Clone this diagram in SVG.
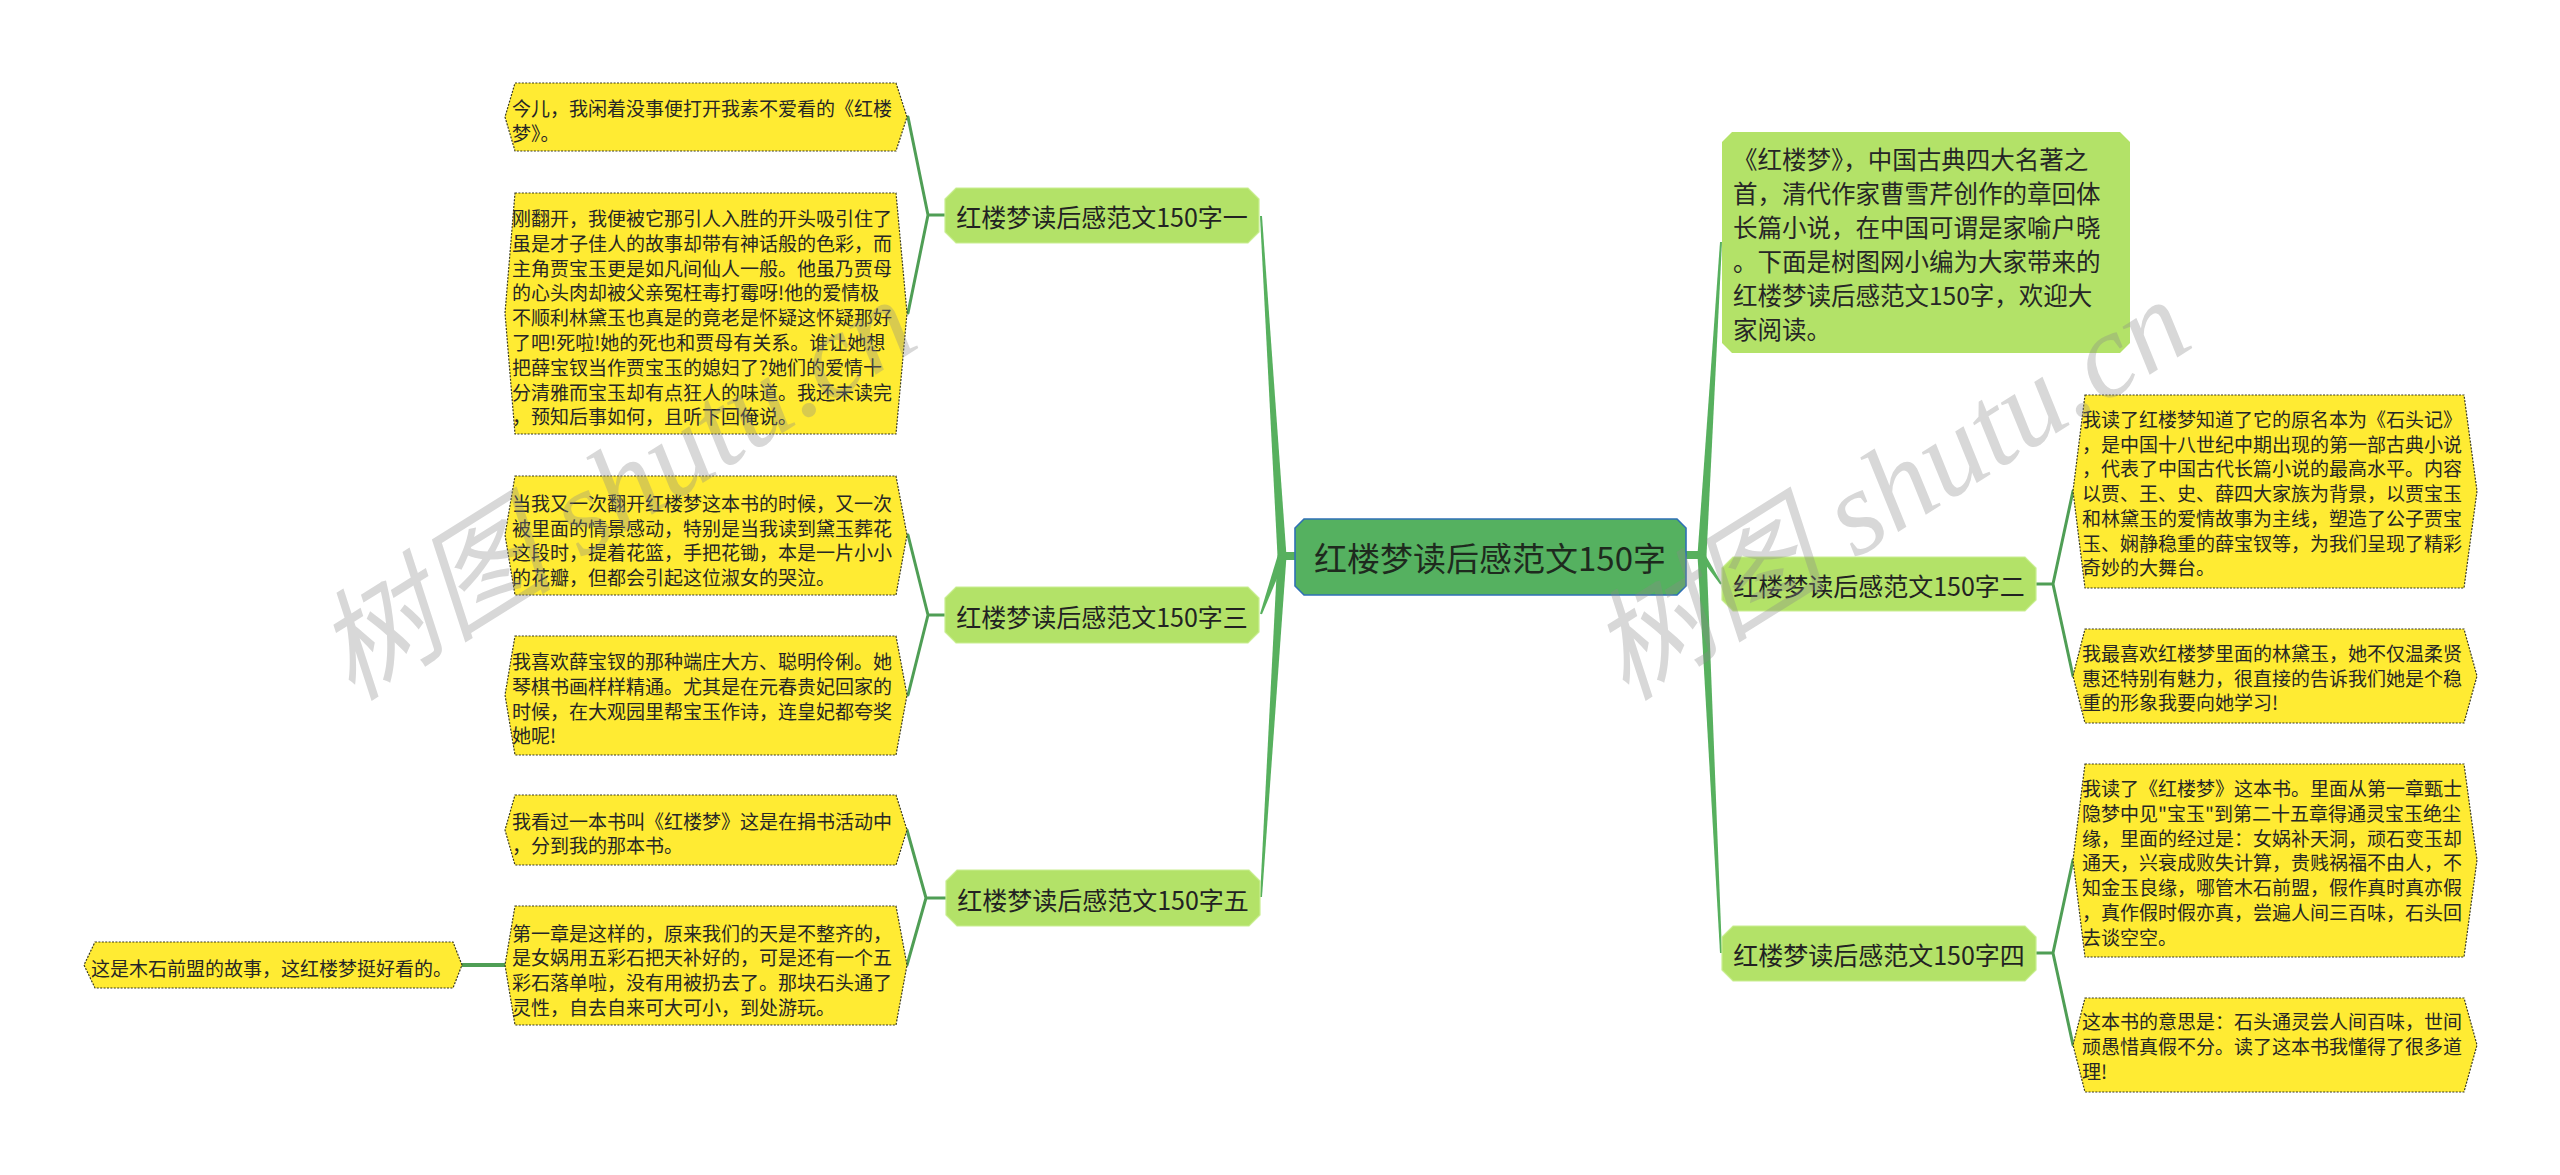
<svg xmlns="http://www.w3.org/2000/svg" width="2560" height="1175" viewBox="0 0 2560 1175">
<style>
text{font-family:"Noto Sans CJK SC","Noto Sans",sans-serif;}
.leaf{fill:#ffeb33;stroke:#3a3a20;stroke-width:1.2;stroke-dasharray:2 1.4;}
.lt{font-size:19px;fill:#262626;dominant-baseline:central;}
.l1{fill:#b3e268;stroke:#c9ee92;stroke-width:1.2;}
.l1t{font-size:25px;fill:#222;text-anchor:middle;dominant-baseline:central;}
.root{fill:#55b160;stroke:#2f70b5;stroke-width:1.6;}
.rt{font-size:33px;fill:#1e2a1e;text-anchor:middle;dominant-baseline:central;}
.it{font-size:24.5px;fill:#262626;dominant-baseline:central;}
.br{fill:#57b05e;}
.ln{fill:none;stroke:#4f9e55;stroke-width:3;stroke-linejoin:round;stroke-linecap:round;}
.wm{font-family:"Liberation Serif","Noto Sans CJK SC",serif;font-style:italic;font-size:120px;fill:#8a8a8a;opacity:0.33;}
</style>
<rect width="2560" height="1175" fill="#ffffff"/>

<g id="connectors">
  <rect class="br" x="1280" y="552" width="18" height="8"/>
  <polygon class="br" points="1277.5,556 1260,216 1262,216 1286.5,556"/>
  <polygon class="br" points="1278,554.6 1260,613.7 1262,614.3 1285.8,557.4"/>
  <polygon class="br" points="1277.5,555.7 1260,897 1262,897 1286.5,556.3"/>
  <rect class="br" x="1684" y="551" width="20" height="8"/>
  <polygon class="br" points="1697.5,554.7 1720,241.9 1722,242.1 1706.5,555.3"/>
  <polygon class="br" points="1699.5,556.6 1720.2,584.5 1721.8,583.5 1704.5,553.4"/>
  <polygon class="br" points="1697.5,555.2 1720,953 1722,953 1706.5,554.8"/>
  <path class="ln" d="M945,215 H928 L908,117 M928,215 L908,313"/>
  <path class="ln" d="M945,615 H928 L908,535 M928,615 L908,695"/>
  <path class="ln" d="M946,898 H926 L907,830 M926,898 L907,965"/>
  <path class="ln" d="M506,965 H461" style="stroke-width:4"/>
  <path class="ln" d="M2036,584 H2053 L2073,491 M2053,584 L2073,676"/>
  <path class="ln" d="M2036,953 H2053 L2073,860 M2053,953 L2073,1045"/>
</g>

<g id="root">
  <polygon class="root" points="1304,519 1677,519 1686,528 1686,586 1677,595 1304,595 1295,586 1295,528"/>
  <text class="rt" x="1490" y="557">红楼梦读后感范文150字</text>
</g>

<g id="n1">
  <polygon class="l1" points="956,188 1248,188 1259,199 1259,232 1248,243 956,243 945,232 945,199"/>
  <text class="l1t" x="1102" y="216">红楼梦读后感范文150字一</text>
</g>
<g id="n3">
  <polygon class="l1" points="956,587 1248,587 1259,598 1259,632 1248,643 956,643 945,632 945,598"/>
  <text class="l1t" x="1102" y="616">红楼梦读后感范文150字三</text>
</g>
<g id="n5">
  <polygon class="l1" points="957,870 1249,870 1260,881 1260,915 1249,926 957,926 946,915 946,881"/>
  <text class="l1t" x="1103" y="899">红楼梦读后感范文150字五</text>
</g>
<g id="n2">
  <polygon class="l1" points="1733,557 2025,557 2036,568 2036,600 2025,611 1733,611 1722,600 1722,568"/>
  <text class="l1t" x="1879" y="585">红楼梦读后感范文150字二</text>
</g>
<g id="n4">
  <polygon class="l1" points="1733,926 2025,926 2036,937 2036,970 2025,981 1733,981 1722,970 1722,937"/>
  <text class="l1t" x="1879" y="954">红楼梦读后感范文150字四</text>
</g>

<g id="intro">
  <polygon class="l1" style="stroke:none" points="1732,132 2120,132 2130,142 2130,343 2120,353 1732,353 1722,343 1722,142"/>
  <text class="it">
    <tspan x="1733" y="158">《红楼梦》，中国古典四大名著之</tspan>
    <tspan x="1733" y="192">首，清代作家曹雪芹创作的章回体</tspan>
    <tspan x="1733" y="226">长篇小说，在中国可谓是家喻户晓</tspan>
    <tspan x="1733" y="260">。下面是树图网小编为大家带来的</tspan>
    <tspan x="1733" y="294">红楼梦读后感范文150字，欢迎大</tspan>
    <tspan x="1733" y="328">家阅读。</tspan>
  </text>
</g>

<g id="leaf1a">
  <polygon class="leaf" points="515,83 896,83 907,117 896,151 515,151 505,117"/>
  <text class="lt">
    <tspan x="512" y="107">今儿，我闲着没事便打开我素不爱看的《红楼</tspan>
    <tspan x="512" y="132">梦》。</tspan>
  </text>
</g>
<g id="leaf1b">
  <polygon class="leaf" points="515,193 896,193 907,313 896,434 515,434 505,313"/>
  <text class="lt">
    <tspan x="512" y="217">刚翻开，我便被它那引人入胜的开头吸引住了</tspan>
    <tspan x="512" y="242">虽是才子佳人的故事却带有神话般的色彩，而</tspan>
    <tspan x="512" y="267">主角贾宝玉更是如凡间仙人一般。他虽乃贾母</tspan>
    <tspan x="512" y="291">的心头肉却被父亲冤枉毒打霉呀!他的爱情极</tspan>
    <tspan x="512" y="316">不顺利林黛玉也真是的竟老是怀疑这怀疑那好</tspan>
    <tspan x="512" y="341">了吧!死啦!她的死也和贾母有关系。谁让她想</tspan>
    <tspan x="512" y="366">把薛宝钗当作贾宝玉的媳妇了?她们的爱情十</tspan>
    <tspan x="512" y="391">分清雅而宝玉却有点狂人的味道。我还未读完</tspan>
    <tspan x="512" y="415">，预知后事如何，且听下回俺说。</tspan>
  </text>
</g>
<g id="leaf3a">
  <polygon class="leaf" points="515,476 896,476 907,535 896,595 515,595 505,535"/>
  <text class="lt">
    <tspan x="512" y="502">当我又一次翻开红楼梦这本书的时候，又一次</tspan>
    <tspan x="512" y="527">被里面的情景感动，特别是当我读到黛玉葬花</tspan>
    <tspan x="512" y="551">这段时，提着花篮，手把花锄，本是一片小小</tspan>
    <tspan x="512" y="576">的花瓣，但都会引起这位淑女的哭泣。</tspan>
  </text>
</g>
<g id="leaf3b">
  <polygon class="leaf" points="515,636 896,636 907,695 896,755 515,755 505,695"/>
  <text class="lt">
    <tspan x="512" y="660">我喜欢薛宝钗的那种端庄大方、聪明伶俐。她</tspan>
    <tspan x="512" y="685">琴棋书画样样精通。尤其是在元春贵妃回家的</tspan>
    <tspan x="512" y="710">时候，在大观园里帮宝玉作诗，连皇妃都夸奖</tspan>
    <tspan x="512" y="734">她呢!</tspan>
  </text>
</g>
<g id="leaf5a">
  <polygon class="leaf" points="515,795 896,795 907,830 896,865 515,865 505,830"/>
  <text class="lt">
    <tspan x="512" y="820">我看过一本书叫《红楼梦》这是在捐书活动中</tspan>
    <tspan x="512" y="844">，分到我的那本书。</tspan>
  </text>
</g>
<g id="leaf5b">
  <polygon class="leaf" points="515,906 896,906 907,965 896,1025 515,1025 505,965"/>
  <text class="lt">
    <tspan x="512" y="932">第一章是这样的，原来我们的天是不整齐的，</tspan>
    <tspan x="512" y="956">是女娲用五彩石把天补好的，可是还有一个五</tspan>
    <tspan x="512" y="981">彩石落单啦，没有用被扔去了。那块石头通了</tspan>
    <tspan x="512" y="1006">灵性，自去自来可大可小，到处游玩。</tspan>
  </text>
</g>
<g id="leaf5b1">
  <polygon class="leaf" points="95,942 453,942 462,965 453,988 95,988 84,965"/>
  <text class="lt" x="91" y="967">这是木石前盟的故事，这红楼梦挺好看的。</text>
</g>

<g id="leaf2a">
  <polygon class="leaf" points="2085,395 2464,395 2477,491 2464,588 2085,588 2073,491"/>
  <text class="lt">
    <tspan x="2082" y="418">我读了红楼梦知道了它的原名本为《石头记》</tspan>
    <tspan x="2082" y="443">，是中国十八世纪中期出现的第一部古典小说</tspan>
    <tspan x="2082" y="467">，代表了中国古代长篇小说的最高水平。内容</tspan>
    <tspan x="2082" y="492">以贾、王、史、薛四大家族为背景，以贾宝玉</tspan>
    <tspan x="2082" y="517">和林黛玉的爱情故事为主线，塑造了公子贾宝</tspan>
    <tspan x="2082" y="542">玉、娴静稳重的薛宝钗等，为我们呈现了精彩</tspan>
    <tspan x="2082" y="566">奇妙的大舞台。</tspan>
  </text>
</g>
<g id="leaf2b">
  <polygon class="leaf" points="2085,629 2464,629 2477,676 2464,723 2085,723 2073,676"/>
  <text class="lt">
    <tspan x="2082" y="652">我最喜欢红楼梦里面的林黛玉，她不仅温柔贤</tspan>
    <tspan x="2082" y="677">惠还特别有魅力，很直接的告诉我们她是个稳</tspan>
    <tspan x="2082" y="701">重的形象我要向她学习!</tspan>
  </text>
</g>
<g id="leaf4a">
  <polygon class="leaf" points="2085,764 2464,764 2477,860 2464,957 2085,957 2073,860"/>
  <text class="lt">
    <tspan x="2082" y="787">我读了《红楼梦》这本书。里面从第一章甄士</tspan>
    <tspan x="2082" y="812">隐梦中见"宝玉"到第二十五章得通灵宝玉绝尘</tspan>
    <tspan x="2082" y="837">缘，里面的经过是：女娲补天洞，顽石变玉却</tspan>
    <tspan x="2082" y="861">通天，兴衰成败失计算，贵贱祸福不由人，不</tspan>
    <tspan x="2082" y="886">知金玉良缘，哪管木石前盟，假作真时真亦假</tspan>
    <tspan x="2082" y="911">，真作假时假亦真，尝遍人间三百味，石头回</tspan>
    <tspan x="2082" y="936">去谈空空。</tspan>
  </text>
</g>
<g id="leaf4b">
  <polygon class="leaf" points="2085,998 2464,998 2477,1045 2464,1092 2085,1092 2073,1045"/>
  <text class="lt">
    <tspan x="2082" y="1020">这本书的意思是：石头通灵尝人间百味，世间</tspan>
    <tspan x="2082" y="1045">顽愚惜真假不分。读了这本书我懂得了很多道</tspan>
    <tspan x="2082" y="1070">理!</tspan>
  </text>
</g>

<g id="watermark">
  <text class="wm" x="352" y="702" transform="rotate(-32 352 702)">树图 shutu.cn</text>
  <text class="wm" x="1626" y="702" transform="rotate(-32 1626 702)">树图 shutu.cn</text>
</g>
</svg>
